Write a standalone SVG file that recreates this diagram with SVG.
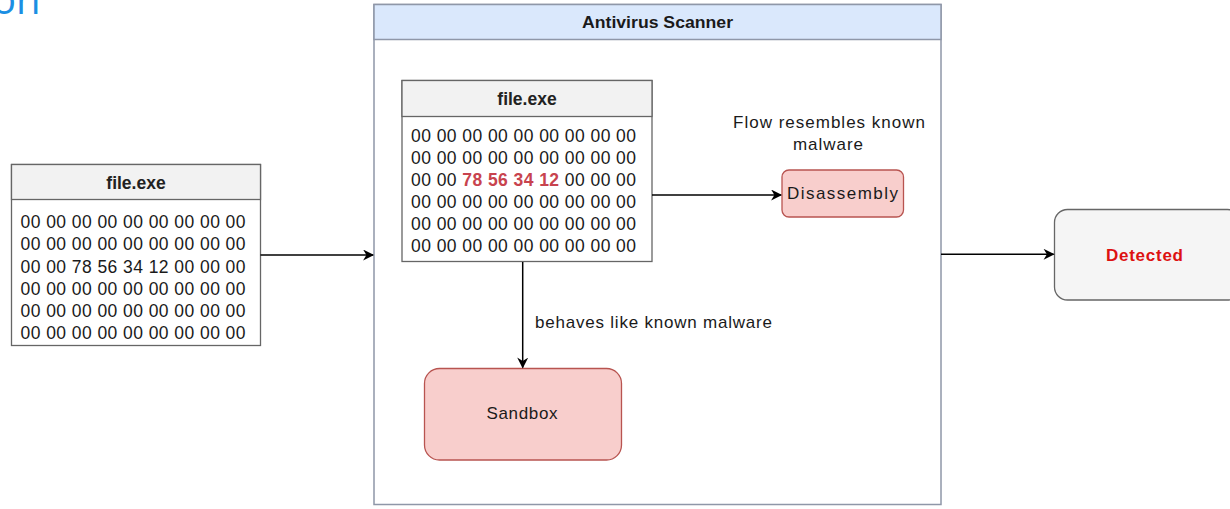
<svg xmlns="http://www.w3.org/2000/svg" width="1230" height="509" viewBox="0 0 1230 509">
<defs>
<style>
.t{font-family:"Liberation Sans",Arial,sans-serif;fill:#1a1a1a}
.b{font-weight:bold}
.hex{font-size:17.5px}
.hd{font-size:17.5px;font-weight:bold;text-anchor:middle;fill:#222}
.lbl{font-size:17px}
.tbl{fill:#fff;stroke:#666;stroke-width:1.3}
.thd{fill:#f2f2f2;stroke:#666;stroke-width:1.3}
.pink{fill:#f8cecc;stroke:#b85450;stroke-width:1.3}
.edge{stroke:#000;stroke-width:1.5;fill:none}
.red{fill:#c8434e;font-weight:bold}
</style>
<marker id="ah" viewBox="0 0 10 10" refX="9" refY="5" markerWidth="12" markerHeight="11" markerUnits="userSpaceOnUse" orient="auto">
<path d="M0,0 L10,5 L0,10 L3,5 Z" fill="#000"/>
</marker>
</defs>
<text x="-8" y="14" style="font-family:'Open Sans',sans-serif;font-size:40px;fill:#1b8fe3">on</text>

<g id="file-left">
<rect class="tbl" x="11.5" y="164.5" width="249" height="181"/>
<rect class="thd" x="11.5" y="164.5" width="249" height="35"/>
<text class="t hd" x="136" y="189">file.exe</text>
<g class="t hex">
<text x="20.5" y="228.3" textLength="225" lengthAdjust="spacing">00 00 00 00 00 00 00 00 00</text>
<text x="20.5" y="250.4" textLength="225" lengthAdjust="spacing">00 00 00 00 00 00 00 00 00</text>
<text x="20.5" y="272.5" textLength="225" lengthAdjust="spacing">00 00 78 56 34 12 00 00 00</text>
<text x="20.5" y="294.6" textLength="225" lengthAdjust="spacing">00 00 00 00 00 00 00 00 00</text>
<text x="20.5" y="316.7" textLength="225" lengthAdjust="spacing">00 00 00 00 00 00 00 00 00</text>
<text x="20.5" y="338.8" textLength="225" lengthAdjust="spacing">00 00 00 00 00 00 00 00 00</text>
</g>
</g>

<g id="scanner">
<rect x="374" y="4.5" width="567" height="500" fill="#fff" stroke="#8f97a8" stroke-width="1.5"/>
<rect x="374" y="4.5" width="567" height="35" fill="#dae8fc" stroke="#8f97a8" stroke-width="1.5"/>
<text class="t b" x="657.5" y="28" text-anchor="middle" style="font-size:16px" textLength="151" lengthAdjust="spacingAndGlyphs">Antivirus Scanner</text>
</g>

<g id="file-inner">
<rect class="tbl" x="402" y="80.5" width="250" height="181"/>
<rect class="thd" x="402" y="80.5" width="250" height="36"/>
<text class="t hd" x="527" y="105">file.exe</text>
<g class="t hex">
<text x="411" y="141.7" textLength="225" lengthAdjust="spacing">00 00 00 00 00 00 00 00 00</text>
<text x="411" y="163.8" textLength="225" lengthAdjust="spacing">00 00 00 00 00 00 00 00 00</text>
<text x="411" y="185.9" textLength="225" lengthAdjust="spacing">00 00 <tspan class="red">78 56 34 12</tspan> 00 00 00</text>
<text x="411" y="208" textLength="225" lengthAdjust="spacing">00 00 00 00 00 00 00 00 00</text>
<text x="411" y="230.1" textLength="225" lengthAdjust="spacing">00 00 00 00 00 00 00 00 00</text>
<text x="411" y="252.2" textLength="225" lengthAdjust="spacing">00 00 00 00 00 00 00 00 00</text>
</g>
</g>

<g id="disassembly">
<rect class="pink" x="782" y="170" width="121.5" height="47" rx="7"/>
<text class="t lbl" x="842.5" y="199" text-anchor="middle" textLength="111" lengthAdjust="spacing">Disassembly</text>
</g>

<g id="sandbox">
<rect class="pink" x="424.5" y="368.5" width="197" height="91.5" rx="15"/>
<text class="t lbl" x="522" y="419.3" text-anchor="middle" textLength="71" lengthAdjust="spacing">Sandbox</text>
</g>

<g id="detected">
<rect x="1054.5" y="209.5" width="186" height="90.5" rx="13" fill="#f5f5f5" stroke="#666" stroke-width="1.3"/>
<text class="t b" x="1144.5" y="260.5" text-anchor="middle" style="font-size:17px;fill:#dd1111" textLength="77" lengthAdjust="spacing">Detected</text>
</g>

<g id="connectors">
<path class="edge" d="M260.5,255 L373,255" marker-end="url(#ah)"/>
<path class="edge" d="M652,195 L781,195" marker-end="url(#ah)"/>
<path class="edge" d="M522.7,262 L522.7,367.5" marker-end="url(#ah)"/>
<path class="edge" d="M941,254.3 L1053.5,254.3" marker-end="url(#ah)"/>
<text class="t lbl" x="829" y="128.3" text-anchor="middle" textLength="192" lengthAdjust="spacing">Flow resembles known</text>
<text class="t lbl" x="828" y="150.3" text-anchor="middle" textLength="70" lengthAdjust="spacing">malware</text>
<text class="t lbl" x="535" y="328.3" textLength="237" lengthAdjust="spacing">behaves like known malware</text>
</g>
</svg>
